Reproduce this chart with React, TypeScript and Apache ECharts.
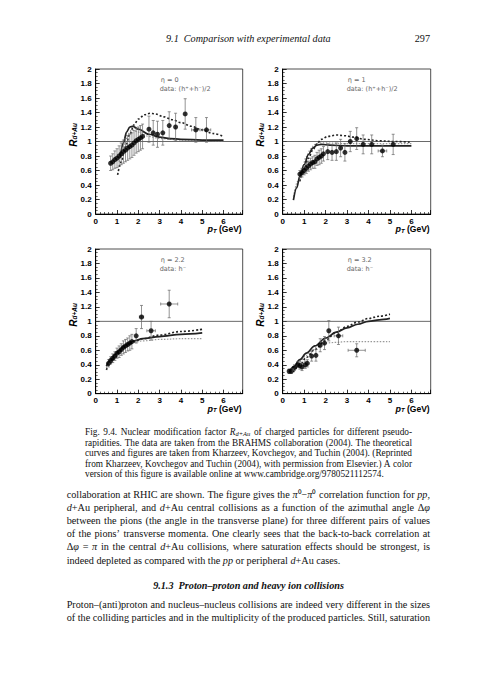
import React, { useEffect, useRef } from 'react';
import * as echarts from 'echarts';

// ---------------- Panel data (BRAHMS R_dAu) ----------------
// eta = 0, data (h+ + h-)/2
const pt0 = [0.7, 0.8, 0.9, 1.0, 1.1, 1.2, 1.3, 1.4, 1.5, 1.6, 1.7, 1.8, 1.9, 2.0, 2.1, 2.2, 2.5, 2.7, 2.9, 3.15, 3.45, 3.75, 4.2, 4.7, 5.2];
const r0 = [0.70, 0.72, 0.75, 0.77, 0.80, 0.83, 0.86, 0.88, 0.91, 0.93, 0.95, 0.98, 1.01, 1.03, 1.05, 1.07, 1.17, 1.12, 1.10, 1.12, 1.22, 1.20, 1.38, 1.16, 1.16];
const e0 = [0.10, 0.11, 0.12, 0.13, 0.14, 0.15, 0.16, 0.16, 0.17, 0.17, 0.17, 0.17, 0.17, 0.17, 0.17, 0.17, 0.18, 0.17, 0.18, 0.17, 0.19, 0.19, 0.21, 0.17, 0.17];
const xe0 = [0, 0, 0, 0, 0, 0, 0, 0, 0, 0, 0, 0, 0, 0, 0, 0, 0, 0, 0, 0, 0, 0, 0, 0.2, 0.2];
const solid0 = [[1.15, 0.78], [1.3, 0.98], [1.45, 1.13], [1.6, 1.2], [1.75, 1.21], [2.0, 1.17], [2.5, 1.1], [3.0, 1.06], [3.5, 1.04], [4.0, 1.03], [5.0, 1.02], [6.0, 1.02]];
const dotted0 = [[1.03, 0.54], [1.2, 0.72], [1.4, 0.93], [1.6, 1.1], [1.8, 1.23], [2.0, 1.31], [2.3, 1.37], [2.55, 1.39], [2.8, 1.38], [3.2, 1.34], [3.6, 1.3], [4.0, 1.26], [4.5, 1.21], [5.0, 1.16], [5.5, 1.11], [6.0, 1.07]];
const gray0 = [[1.1, 0.72], [1.3, 0.95], [1.5, 1.1], [1.7, 1.16], [2.0, 1.13], [2.5, 1.07], [3.0, 1.04], [4.0, 1.02], [6.0, 1.01]];

// eta = 1, data (h+ + h-)/2
const pt1 = [0.8, 0.9, 1.0, 1.1, 1.2, 1.3, 1.4, 1.5, 1.6, 1.7, 1.8, 1.9, 2.1, 2.3, 2.5, 2.7, 2.9, 3.15, 3.45, 3.75, 4.15, 4.65, 5.15];
const r1 = [0.55, 0.57, 0.60, 0.63, 0.66, 0.69, 0.71, 0.72, 0.76, 0.78, 0.80, 0.83, 0.86, 0.85, 0.86, 0.91, 0.85, 1.00, 1.04, 0.96, 0.96, 0.87, 0.96];
const e1 = [0.05, 0.06, 0.06, 0.07, 0.07, 0.08, 0.08, 0.09, 0.09, 0.10, 0.10, 0.10, 0.11, 0.11, 0.12, 0.12, 0.12, 0.14, 0.15, 0.13, 0.13, 0.08, 0.14];
const xe1 = [0, 0, 0, 0, 0, 0, 0, 0, 0, 0, 0, 0, 0, 0, 0, 0, 0, 0, 0, 0, 0, 0.2, 0];
const solid1 = [[0.5, 0.19], [0.65, 0.36], [0.8, 0.52], [1.0, 0.68], [1.2, 0.82], [1.4, 0.91], [1.6, 0.95], [1.8, 0.96], [2.2, 0.95], [3.0, 0.94], [4.0, 0.94], [5.0, 0.94], [6.0, 0.94]];
const dotted1 = [[0.8, 0.45], [1.0, 0.62], [1.2, 0.77], [1.4, 0.88], [1.6, 0.97], [1.8, 1.03], [2.1, 1.07], [2.5, 1.09], [2.9, 1.08], [3.3, 1.06], [3.8, 1.03], [4.5, 1.01], [5.2, 1.0], [6.0, 0.99]];
const gray1 = [[0.5, 0.24], [0.7, 0.45], [0.9, 0.63], [1.1, 0.79], [1.3, 0.9], [1.5, 0.96], [1.7, 0.98], [2.0, 0.98], [3.0, 0.97], [4.0, 0.97], [6.0, 0.97]];

// eta = 2.2, data h-
const pt2 = [0.6, 0.7, 0.8, 0.9, 1.0, 1.1, 1.2, 1.3, 1.4, 1.5, 1.6, 1.7, 1.9, 2.15, 2.6, 3.45];
const r2 = [0.42, 0.46, 0.49, 0.52, 0.56, 0.58, 0.61, 0.64, 0.66, 0.68, 0.70, 0.72, 0.80, 1.06, 0.87, 1.24];
const e2 = [0.05, 0.05, 0.06, 0.06, 0.07, 0.08, 0.08, 0.09, 0.09, 0.09, 0.10, 0.10, 0.10, 0.16, 0.13, 0.19];
const xe2 = [0, 0, 0, 0, 0, 0, 0, 0, 0, 0, 0, 0, 0, 0.1, 0.2, 0.4];
const solid2 = [[0.5, 0.38], [0.7, 0.46], [0.9, 0.54], [1.1, 0.6], [1.3, 0.65], [1.5, 0.69], [1.8, 0.73], [2.2, 0.76], [3.0, 0.79], [4.0, 0.82], [5.0, 0.84]];
const dotted2 = [[0.5, 0.33], [0.7, 0.42], [0.9, 0.5], [1.1, 0.57], [1.3, 0.63], [1.5, 0.67], [1.8, 0.72], [2.2, 0.76], [3.0, 0.81], [4.0, 0.86], [5.0, 0.89]];
const gray2 = [[0.5, 0.36], [0.7, 0.45], [0.9, 0.53], [1.1, 0.59], [1.3, 0.64], [1.5, 0.68], [1.8, 0.71], [2.2, 0.73], [3.0, 0.75], [4.0, 0.76], [5.0, 0.76]];

// eta = 3.2, data h-
const pt3 = [0.3, 0.4, 0.55, 0.7, 0.8, 0.9, 1.05, 1.15, 1.35, 1.55, 1.75, 1.95, 2.15, 2.6, 3.45];
const r3 = [0.31, 0.31, 0.36, 0.40, 0.39, 0.37, 0.40, 0.42, 0.52, 0.53, 0.67, 0.70, 0.87, 0.80, 0.60];
const e3 = [0.03, 0.03, 0.04, 0.04, 0.05, 0.05, 0.05, 0.05, 0.07, 0.08, 0.09, 0.09, 0.14, 0.12, 0.09];
const xe3 = [0, 0, 0, 0, 0, 0, 0, 0, 0, 0, 0, 0, 0, 0.2, 0.4];
const solid3 = [[0.3, 0.3], [0.5, 0.37], [0.8, 0.47], [1.1, 0.56], [1.5, 0.66], [2.0, 0.77], [2.5, 0.85], [3.0, 0.91], [3.5, 0.96], [4.0, 1.0], [4.5, 1.02], [5.0, 1.04]];
const dotted3 = [[0.5, 0.3], [0.8, 0.4], [1.1, 0.5], [1.5, 0.61], [2.0, 0.74], [2.5, 0.85], [3.0, 0.93], [3.5, 0.99], [4.0, 1.04], [4.5, 1.07], [5.0, 1.1]];
const gray3 = [[0.3, 0.3], [0.5, 0.36], [0.8, 0.45], [1.1, 0.53], [1.4, 0.61], [1.7, 0.67], [2.0, 0.7], [2.5, 0.71], [3.0, 0.72], [4.0, 0.72], [5.0, 0.72]];

const etaLabels = ['η = 0', 'η = 1', 'η = 2.2', 'η = 3.2'];
const dataLabels = ['data: (h⁺+h⁻)/2', 'data: (h⁺+h⁻)/2', 'data: h⁻', 'data: h⁻'];

// ---------------- Page text ----------------
const headerTitle = '9.1  Comparison with experimental data';
const pageNumber = '297';
const captionLines = [
  'Fig. 9.4. Nuclear modification factor {i|R}{sb|d+Au} of charged particles for different pseudo-',
  'rapidities. The data are taken from the BRAHMS collaboration (2004). The theoretical',
  'curves and figures are taken from Kharzeev, Kovchegov, and Tuchin (2004). (Reprinted',
  'from Kharzeev, Kovchegov and Tuchin (2004), with permission from Elsevier.) A color',
  'version of this figure is available online at www.cambridge.org/9780521112574.',
];
const bodyLines = [
  'collaboration at RHIC are shown. The figure gives the {i|π}⁰−{i|π}⁰ correlation function for {i|pp},',
  '{i|d}+Au peripheral, and {i|d}+Au central collisions as a function of the azimuthal angle Δ{i|φ}',
  'between the pions (the angle in the transverse plane) for three different pairs of values',
  'of the pions’ transverse momenta. One clearly sees that the back-to-back correlation at',
  'Δ{i|φ} = {i|π} in the central {i|d}+Au collisions, where saturation effects should be strongest, is',
  'indeed depleted as compared with the {i|pp} or peripheral {i|d}+Au cases.',
];
const sectionHeading = '9.1.3  Proton–proton and heavy ion collisions';
const lastLines = [
  'Proton–(anti)proton and nucleus–nucleus collisions are indeed very different in the sizes',
  'of the colliding particles and in the multiplicity of the produced particles. Still, saturation',
];

// ---------------- Layout ----------------
const GRIDS = [
  { left: 95.7, top: 69, width: 147, height: 145 },
  { left: 282.7, top: 69, width: 148, height: 145 },
  { left: 95.7, top: 249, width: 147, height: 144.7 },
  { left: 282.7, top: 249, width: 148, height: 144.7 },
];
const SERIF = 'Liberation Serif';
const SANS = 'Liberation Sans';

type Seg = { t: string; k: string };
function parse(word: string): Seg[] {
  const out: Seg[] = [];
  const re = /\{(\w+)\|([^}]*)\}/g;
  let last = 0;
  let m: RegExpExecArray | null;
  while ((m = re.exec(word))) {
    if (m.index > last) out.push({ t: word.slice(last, m.index), k: '' });
    out.push({ t: m[2], k: m[1] });
    last = re.lastIndex;
  }
  if (last < word.length) out.push({ t: word.slice(last), k: '' });
  return out;
}

const KEYS: Record<string, { style: string; scale: number; va?: string }> = {
  '': { style: 'normal', scale: 1 },
  i: { style: 'italic', scale: 1 },
  sb: { style: 'italic', scale: 0.7, va: 'bottom' },
};

let mctx: CanvasRenderingContext2D | null = null;
function measureWord(word: string, size: number, weight: string, baseStyle: string): number {
  if (!mctx) mctx = document.createElement('canvas').getContext('2d');
  let w = 0;
  for (const s of parse(word)) {
    const k = KEYS[s.k] || KEYS[''];
    const st = s.k === '' ? baseStyle : k.style;
    mctx!.font = `${st} ${weight} ${size * k.scale}px "${SERIF}"`;
    w += mctx!.measureText(s.t).width;
  }
  return w;
}

function richFor(size: number, weight: string) {
  const rich: any = {};
  Object.keys(KEYS).forEach((key) => {
    if (!key) return;
    const k = KEYS[key];
    rich[key] = {
      fontStyle: k.style,
      fontWeight: weight,
      fontSize: size * k.scale,
      fontFamily: SERIF,
      fill: '#111',
      verticalAlign: k.va || 'middle',
    };
  });
  return rich;
}

function naturalWidth(line: string, size: number, weight: string, st: string) {
  const words = line.split(' ');
  const sp = measureWord(' ', size, weight, st);
  return words.reduce((a, w) => a + measureWord(w, size, weight, st), 0) + sp * (words.length - 1);
}

function fitSize(lines: string[], width: number) {
  let mx = 0;
  lines.forEach((l) => {
    mx = Math.max(mx, naturalWidth(l, 10, 'normal', 'normal'));
  });
  return (10 * width) / mx;
}

function textBlock(lines: string[], x0: number, width: number, y0: number, lineH: number, size: number, justifyLast: boolean) {
  const els: any[] = [];
  const rich = richFor(size, 'normal');
  lines.forEach((line, li) => {
    const words = line.split(' ');
    const ws = words.map((w) => measureWord(w, size, 'normal', 'normal'));
    const total = ws.reduce((a, b) => a + b, 0);
    const justify = li < lines.length - 1 || justifyLast;
    const sp = measureWord(' ', size, 'normal', 'normal');
    const gap = justify && words.length > 1 ? Math.max(1, (width - total) / (words.length - 1)) : sp;
    let x = x0;
    const y = y0 + li * lineH;
    words.forEach((w, i) => {
      els.push({
        type: 'text',
        x,
        y,
        silent: true,
        style: {
          text: w,
          fontFamily: SERIF,
          fontSize: size,
          fill: '#111',
          rich,
          align: 'left',
          verticalAlign: 'middle',
          textAlign: 'left',
          textVerticalAlign: 'middle',
        },
      });
      x += ws[i] + gap;
    });
  });
  return els;
}

function plainText(text: string, x: number, y: number, opts: any) {
  return {
    type: 'text',
    x,
    y,
    silent: true,
    style: Object.assign(
      {
        text,
        fill: '#111',
        align: 'left',
        verticalAlign: 'middle',
        textAlign: 'left',
        textVerticalAlign: 'middle',
      },
      opts,
      opts.align ? { textAlign: opts.align } : {},
    ),
  };
}

function buildOption() {
  const panels = [
    { pt: pt0, r: r0, e: e0, xe: xe0, solid: solid0, dotted: dotted0, gray: gray0 },
    { pt: pt1, r: r1, e: e1, xe: xe1, solid: solid1, dotted: dotted1, gray: gray1 },
    { pt: pt2, r: r2, e: e2, xe: xe2, solid: solid2, dotted: dotted2, gray: gray2 },
    { pt: pt3, r: r3, e: e3, xe: xe3, solid: solid3, dotted: dotted3, gray: gray3 },
  ];

  const grid = GRIDS.map((g) => ({ ...g, show: true, borderColor: '#222', borderWidth: 0.8, backgroundColor: 'transparent' }));
  const tickLabel = { fontFamily: SANS, fontWeight: 'bold', fontSize: 8, color: '#000' };
  const xAxis = GRIDS.map((_, i) => ({
    gridIndex: i,
    type: 'value',
    min: 0,
    max: 6.9,
    interval: 1,
    axisLine: { show: true, onZero: false, lineStyle: { color: '#000', width: 1 } },
    axisTick: { show: true, inside: true, length: 4, lineStyle: { color: '#000', width: 0.8 } },
    minorTick: { show: true, splitNumber: 5, length: 2, lineStyle: { color: '#000', width: 0.6 } },
    splitLine: { show: false },
    minorSplitLine: { show: false },
    axisLabel: { ...tickLabel, margin: 3, formatter: (v: number) => (Number.isInteger(v) ? String(v) : '') },
  }));
  const yAxis = GRIDS.map((_, i) => ({
    gridIndex: i,
    type: 'value',
    min: 0,
    max: 2,
    interval: 0.2,
    axisLine: { show: true, onZero: false, lineStyle: { color: '#000', width: 1 } },
    axisTick: { show: true, inside: true, length: 4, lineStyle: { color: '#000', width: 0.8 } },
    minorTick: { show: true, splitNumber: 4, length: 2, lineStyle: { color: '#000', width: 0.6 } },
    splitLine: { show: false },
    minorSplitLine: { show: false },
    axisLabel: { ...tickLabel, margin: 4 },
  }));

  const series: any[] = [];
  panels.forEach((p, i) => {
    const axes = { xAxisIndex: i, yAxisIndex: i };
    series.push({
      type: 'line',
      ...axes,
      data: [[0, 1], [6.9, 1]],
      showSymbol: false,
      silent: true,
      lineStyle: { color: '#444', width: 0.8 },
      z: 1,
    });
    series.push({
      type: 'line', ...axes, data: p.gray, showSymbol: false, smooth: 0.35, smoothMonotone: 'x', silent: true,
      lineStyle: { color: '#999', width: 1.2, type: [1.5, 1.5] }, z: 2,
    });
    series.push({
      type: 'line', ...axes, data: p.solid, showSymbol: false, smooth: 0.35, smoothMonotone: 'x', silent: true,
      lineStyle: { color: '#222', width: 1.7 }, z: 2,
    });
    series.push({
      type: 'line', ...axes, data: p.dotted, showSymbol: false, smooth: 0.35, smoothMonotone: 'x', silent: true,
      lineStyle: { color: '#222', width: 1.6, type: [2, 2] }, z: 2,
    });
    series.push({
      type: 'custom',
      ...axes,
      silent: true,
      z: 3,
      encode: { x: 0, y: 1 },
      data: p.pt.map((x, k) => [x, p.r[k], p.e[k], p.xe[k]]),
      renderItem: (_params: any, api: any) => {
        const x = api.value(0);
        const y = api.value(1);
        const e = api.value(2);
        const xe = api.value(3);
        const c = api.coord([x, y]);
        const t = api.coord([x, y + e]);
        const b = api.coord([x, y - e]);
        const st = { stroke: '#666', lineWidth: 0.7 };
        const ch: any[] = [
          { type: 'line', shape: { x1: c[0], y1: t[1], x2: c[0], y2: b[1] }, style: st },
          { type: 'line', shape: { x1: c[0] - 1.5, y1: t[1], x2: c[0] + 1.5, y2: t[1] }, style: st },
          { type: 'line', shape: { x1: c[0] - 1.5, y1: b[1], x2: c[0] + 1.5, y2: b[1] }, style: st },
        ];
        if (xe > 0) {
          const l = api.coord([x - xe, y]);
          const r = api.coord([x + xe, y]);
          ch.push({ type: 'line', shape: { x1: l[0], y1: c[1], x2: r[0], y2: c[1] }, style: st });
          ch.push({ type: 'line', shape: { x1: l[0], y1: c[1] - 1.5, x2: l[0], y2: c[1] + 1.5 }, style: st });
          ch.push({ type: 'line', shape: { x1: r[0], y1: c[1] - 1.5, x2: r[0], y2: c[1] + 1.5 }, style: st });
        }
        return { type: 'group', children: ch };
      },
    });
    series.push({
      type: 'scatter',
      ...axes,
      silent: true,
      z: 4,
      symbol: 'circle',
      symbolSize: 5,
      itemStyle: { color: '#000' },
      data: p.pt.map((x, k) => [x, p.r[k]]),
    });
  });

  // ---- graphic texts ----
  const g: any[] = [];
  GRIDS.forEach((gr, i) => {
    // y-axis title
    g.push({
      type: 'text',
      x: gr.left - 22.5,
      y: gr.top + gr.height * 0.455,
      rotation: Math.PI / 2,
      silent: true,
      style: {
        text: '{r|R}{s|d+Au}',
        align: 'center',
        verticalAlign: 'middle',
        textAlign: 'center',
        textVerticalAlign: 'middle',
        rich: {
          r: { fontSize: 10, fontStyle: 'italic', fontWeight: 'bold', fontFamily: SANS, fill: '#000' },
          s: { fontSize: 6.5, fontStyle: 'italic', fontWeight: 'bold', fontFamily: SANS, fill: '#000', verticalAlign: 'bottom' },
        },
      },
    });
    // x-axis title
    g.push({
      type: 'text',
      x: gr.left + gr.width - 1,
      y: gr.top + gr.height + 15,
      silent: true,
      style: {
        text: '{p|p}{t|T} (GeV)',
        fontSize: 8.5,
        fontWeight: 'bold',
        fontFamily: SANS,
        fill: '#000',
        align: 'right',
        verticalAlign: 'middle',
        textAlign: 'right',
        textVerticalAlign: 'middle',
        rich: {
          p: { fontSize: 9, fontStyle: 'italic', fontWeight: 'bold', fontFamily: SANS, fill: '#000' },
          t: { fontSize: 6, fontStyle: 'italic', fontWeight: 'bold', fontFamily: SANS, fill: '#000', verticalAlign: 'bottom' },
        },
      },
    });
    // annotations
    g.push(plainText(etaLabels[i], gr.left + 65, gr.top + 11, { fontFamily: 'DejaVu Sans', fontSize: 6.5, fill: '#666' }));
    g.push(plainText(dataLabels[i], gr.left + 64, gr.top + 19.5, { fontFamily: 'DejaVu Sans', fontSize: 6.5, fill: '#666' }));
  });

  // page header
  const bodySize = fitSize(bodyLines.slice(0, 5).concat(lastLines), 363.3);
  const capSize = fitSize(captionLines.slice(0, 4), 327);
  g.push(plainText(headerTitle, 166, 38, { fontFamily: SERIF, fontStyle: 'italic', fontSize: bodySize }));
  g.push(plainText(pageNumber, 430, 38, { fontFamily: SERIF, fontSize: bodySize, align: 'right' }));
  g.push(...textBlock(captionLines, 85, 327, 432.3, 10.42, capSize, false));
  g.push(...textBlock(bodyLines, 66.7, 363.3, 494, 13.2, bodySize, false));
  g.push(plainText(sectionHeading, 248.5, 585.7, { fontFamily: SERIF, fontStyle: 'italic', fontWeight: 'bold', fontSize: bodySize, align: 'center' }));
  g.push(...textBlock(lastLines, 66.7, 363.3, 604.3, 13.3, bodySize, true));

  return {
    animation: false,
    backgroundColor: '#fff',
    grid,
    xAxis,
    yAxis,
    series,
    graphic: { elements: g },
  };
}

export default function App() {
  const ref = useRef<HTMLDivElement>(null);
  useEffect(() => {
    if (!ref.current) return;
    const chart = echarts.init(ref.current, null, { renderer: 'svg' });
    chart.setOption(buildOption() as any);
    return () => chart.dispose();
  }, []);
  return (
    <div
      ref={ref}
      style={{ position: 'absolute', left: 0, top: 0, width: 500, height: 692, background: '#fff' }}
    />
  );
}
